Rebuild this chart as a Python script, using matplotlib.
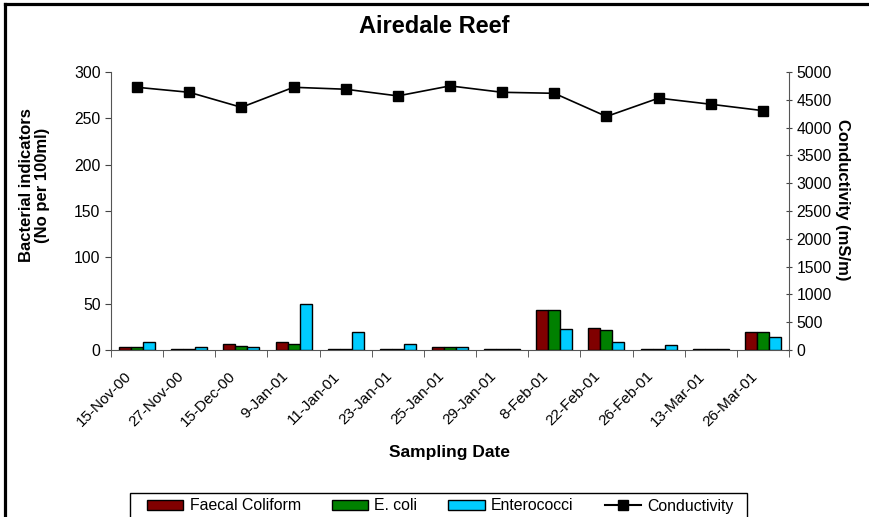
import matplotlib
matplotlib.use("Agg")
import matplotlib.pyplot as plt
import matplotlib.transforms as mtransforms
import numpy as np
from matplotlib.patches import Rectangle
from matplotlib.lines import Line2D

dates = ["15-Nov-00", "27-Nov-00", "15-Dec-00", "9-Jan-01", "11-Jan-01", "23-Jan-01",
         "25-Jan-01", "29-Jan-01", "8-Feb-01", "22-Feb-01", "26-Feb-01", "13-Mar-01", "26-Mar-01"]
faecal = [3, 1, 7, 9, 1, 1, 3, 1, 43, 24, 1, 1, 19]
ecoli = [3, 1, 4, 7, 1, 1, 3, 1, 43, 22, 1, 1, 19]
entero = [9, 3, 3, 50, 19, 6, 3, 1, 23, 9, 5, 1, 14]
conductivity = [4725, 4635, 4365, 4725, 4690, 4570, 4750, 4635, 4617, 4200, 4530, 4420, 4305]

plt.rcParams['font.family'] = ['Liberation Sans', 'DejaVu Sans']

W, H = 869, 517
fig = plt.figure(figsize=(W/100, H/100), dpi=100)
ax = fig.add_axes([111/W, 1-350/H, (789-111)/W, (350-72)/H])
ax2 = ax.twinx()

x = np.arange(len(dates))
w = 0.23
cols = ['#800000', '#008000', '#00CCFF']
for i, (vals, c, lab) in enumerate(zip([faecal, ecoli, entero], cols,
                                       ['Faecal Coliform', 'E. coli', 'Enterococci'])):
    ax.bar(x + (i-1)*w, vals, w, color=c, edgecolor='black', linewidth=1, label=lab, zorder=3)

ax2.plot(x, conductivity, color='black', marker='s', markersize=7.5, linewidth=1.2,
         label='Conductivity', zorder=4)

ax.set_xlim(-0.5, len(dates)-0.5)
ax.set_ylim(0, 300)
ax2.set_ylim(0, 5000)
ax.set_yticks(range(0, 301, 50))
ax2.set_yticks(range(0, 5001, 500))

# category labels (rotated) placed below each category
ax.set_xticks(x)
ax.set_xticklabels([])
offset = mtransforms.ScaledTranslation(-13/100, -19/100, fig.dpi_scale_trans)
trans = mtransforms.blended_transform_factory(ax.transData, ax.transAxes) + offset
for xi, d in zip(x, dates):
    ax.text(xi, 0, d, transform=trans, rotation=45, rotation_mode='anchor',
            ha='right', va='top', fontsize=11, clip_on=False)

ax.set_xticks(np.arange(-0.5, len(dates)), minor=True)
ax.tick_params(axis='x', which='major', length=0, pad=0)
ax.tick_params(axis='x', which='minor', length=5, direction='out', color='#444444')
ax.tick_params(axis='y', length=4, direction='out', labelsize=11.3, color='#444444')
ax2.tick_params(axis='y', length=4, direction='inout', labelsize=11.3, color='#444444')

for a in (ax, ax2):
    a.spines['top'].set_visible(False)
ax.spines['right'].set_visible(False)
ax2.spines['left'].set_visible(False)
for s in ['left', 'bottom']:
    ax.spines[s].set_color('#555555')
ax2.spines['right'].set_color('#555555')
ax2.spines['bottom'].set_visible(False)

ax.set_ylabel('Bacterial indicators\n(No per 100ml)', fontsize=12, fontweight='bold',
              linespacing=1.1)
ax.yaxis.set_label_coords(-(111-50)/678, (350-185)/278)
ax2.set_ylabel('Conductivity (mS/m)', fontsize=12, fontweight='bold', rotation=270)
ax2.yaxis.set_label_coords((850-111)/678, (350-200)/278)
ax.set_xlabel('Sampling Date', fontsize=12.5, fontweight='bold')
ax.xaxis.set_label_coords(0.5, -(445-350)/278)

fig.text(0.5, 1-27/H, 'Airedale Reef', ha='center', va='center', fontsize=17, fontweight='bold')

handles = [Rectangle((0, 0), 1, 1, facecolor=c, edgecolor='black') for c in cols]
handles.append(Line2D([0], [0], color='black', marker='s', markersize=7.5))
leg = fig.legend(handles, ['Faecal Coliform', 'E. coli', 'Enterococci', 'Conductivity'],
                 loc='center left', bbox_to_anchor=(147/W, 1-506/H), ncol=4,
                 frameon=False, fontsize=11.4, borderpad=0, borderaxespad=0,
                 handlelength=2.3, handleheight=0.55, columnspacing=1.95,
                 handletextpad=0.4)

# legend frame
fig.add_artist(Rectangle((130/W, -0.05), (747-130)/W, 0.05 + 1-493/H, transform=fig.transFigure,
                         fill=False, edgecolor='black', linewidth=1))

# outer chart border (left and top)
fig.add_artist(Line2D([5/W, 5/W], [0, 1-3.5/H], transform=fig.transFigure, color='black', lw=2.3))
fig.add_artist(Line2D([5/W, 1], [1-3.5/H, 1-3.5/H], transform=fig.transFigure, color='black', lw=2.3))

fig.savefig('out.png', dpi=100)
